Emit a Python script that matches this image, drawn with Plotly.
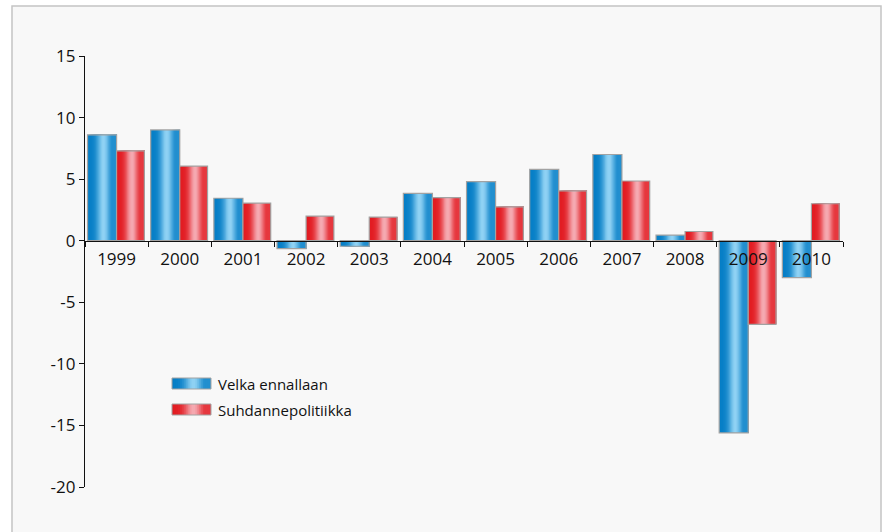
import math
import plotly.graph_objects as go

# Annual figures for the two scenarios
years = ["1999", "2000", "2001", "2002", "2003", "2004",
         "2005", "2006", "2007", "2008", "2009", "2010"]
velka_ennallaan = [8.6, 9.0, 3.45, -0.65, -0.45, 3.85, 4.8, 5.8, 7.0, 0.45, -15.6, -3.0]
suhdannepolitiikka = [7.3, 6.05, 3.05, 2.0, 1.92, 3.5, 2.75, 4.05, 4.85, 0.75, -6.8, 3.0]
series_names = ["Velka ennallaan", "Suhdannepolitiikka"]
y_ticks = [15, 10, 5, 0, -5, -10, -15, -20]
y_tick_text = ["15", "10", "5", "0", "-5", "-10", "-15", "-20"]

FONT = "Open Sans"
N_STRIPES = 24

# Horizontal shading: dark at the edges, light band right of centre
BLUE_DARK, BLUE_LIGHT = (6, 126, 198), (144, 210, 244)
RED_DARK, RED_LIGHT = (226, 28, 34), (245, 170, 178)


def shade(t, dark, light):
    k = math.exp(-((t - 0.55) / 0.22) ** 2)
    if t > 0.55:
        k = max(k, 0.2)
    c = [round(d + (l - d) * k) for d, l in zip(dark, light)]
    return "rgb(%d,%d,%d)" % tuple(c)


fig = go.Figure()

bar_specs = [
    (velka_ennallaan, -0.46, 0.46, BLUE_DARK, BLUE_LIGHT),
    (suhdannepolitiikka, 0.0, 0.44, RED_DARK, RED_LIGHT),
]

for values, off, width, dark, light in bar_specs:
    step = width / N_STRIPES
    # each stripe runs to the bar's right edge; later stripes cover earlier ones
    for i in range(N_STRIPES):
        t = (i + 0.5) / N_STRIPES
        fig.add_trace(go.Bar(
            x=years, y=values,
            offset=off + i * step, width=width - i * step,
            marker=dict(color=shade(t, dark, light), line=dict(width=0)),
            showlegend=False, hoverinfo="skip",
        ))
    # thin grey outline around each bar
    fig.add_trace(go.Bar(
        x=years, y=values, offset=off, width=width,
        marker=dict(color="rgba(0,0,0,0)", line=dict(color="#a2a2a2", width=1.2)),
        showlegend=False,
    ))

# Plot-area geometry (pixels) used to place the framed background and legend
W, H = 885, 532
L, R, T, B = 85, 42, 56, 45
pw, ph = W - L - R, H - T - B


def px(xp):
    return (xp - L) / pw


def py(yp):
    return (H - B - yp) / ph


shapes = [dict(
    type="rect", xref="paper", yref="paper",
    x0=px(12), x1=px(881), y0=py(545), y1=py(6),
    fillcolor="#f8f8f8", line=dict(color="#c4c4c4", width=1.5), layer="below",
)]

annotations = []
legend_rows = [(378, 389, BLUE_DARK, BLUE_LIGHT), (404, 415, RED_DARK, RED_LIGHT)]
for name, (top, bot, dark, light) in zip(series_names, legend_rows):
    x0, x1 = 172, 211
    n = 20
    sw = (x1 - x0) / n
    for i in range(n):
        t = (i + 0.5) / n
        shapes.append(dict(
            type="rect", xref="paper", yref="paper",
            x0=px(x0 + i * sw), x1=px(x1),
            y0=py(bot), y1=py(top),
            fillcolor=shade(t, dark, light), line=dict(width=0), layer="above",
        ))
    shapes.append(dict(
        type="rect", xref="paper", yref="paper",
        x0=px(x0), x1=px(x1), y0=py(bot), y1=py(top),
        fillcolor="rgba(0,0,0,0)", line=dict(color="#a2a2a2", width=1), layer="above",
    ))
    annotations.append(dict(
        text=name, xref="paper", yref="paper", x=px(216), y=py((top + bot) / 2),
        xanchor="left", yanchor="middle", showarrow=False,
        font=dict(family=FONT, size=15, color="#111111"),
    ))

fig.update_layout(
    width=W, height=H,
    margin=dict(l=L, r=R, t=T, b=B),
    paper_bgcolor="white", plot_bgcolor="rgba(0,0,0,0)",
    barmode="overlay", showlegend=False,
    font=dict(family=FONT, size=17, color="#111111"),
    shapes=shapes, annotations=annotations,
    xaxis=dict(
        type="category", categoryorder="array", categoryarray=years,
        range=[-0.5, len(years) - 0.5],
        anchor="free", position=20 / 35,
        showline=True, linecolor="#111111", linewidth=1.2,
        ticks="outside", tickson="boundaries", ticklen=5, tickcolor="#111111",
        ticklabelstandoff=3,
        showgrid=False, zeroline=False,
        tickfont=dict(family=FONT, size=17, color="#111111"),
    ),
    yaxis=dict(
        range=[-20, 15], tickvals=y_ticks, ticktext=y_tick_text,
        showline=True, linecolor="#111111", linewidth=1.2,
        ticks="outside", ticklen=5, tickcolor="#111111",
        showgrid=False, zeroline=False,
        tickfont=dict(family=FONT, size=17, color="#111111"),
    ),
)

fig.write_html("out.html")
